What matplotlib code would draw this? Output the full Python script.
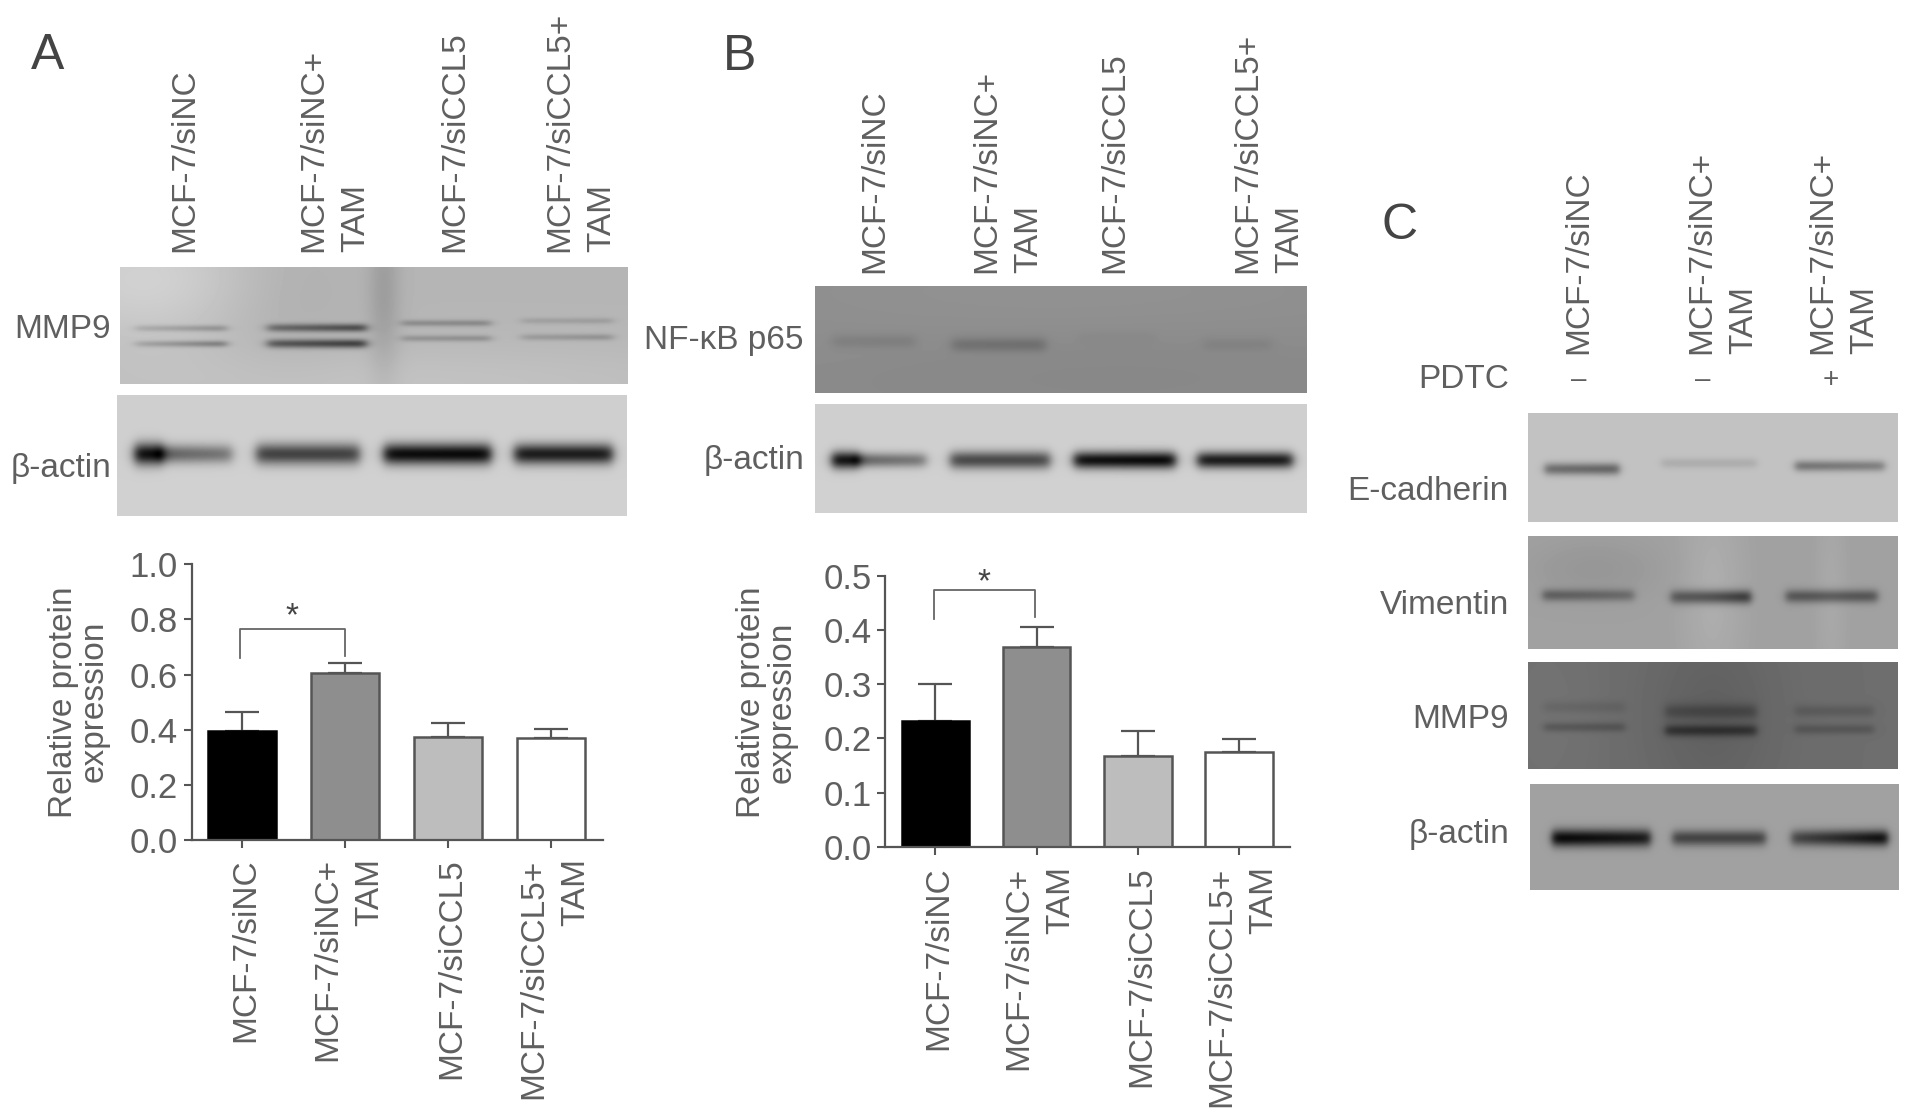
"""Western blot panels and relative protein expression bars (panels A, B, C)."""
import numpy as np
import matplotlib
matplotlib.use("Agg")
import matplotlib.pyplot as plt
from matplotlib.transforms import ScaledTranslation

plt.rcParams['font.family'] = ['Liberation Sans', 'DejaVu Sans']

W, H = 1913, 1120
TXT = '#5f5f5f'
LINE = '#555555'

# ── Chart values ─────────────────────────────────────────────────────────────
groups = ['MCF-7/siNC', 'MCF-7/siNC+\nTAM', 'MCF-7/siCCL5', 'MCF-7/siCCL5+\nTAM']
groups_c = ['MCF-7/siNC', 'MCF-7/siNC+\nTAM', 'MCF-7/siNC+\nTAM']
pdtc_signs = ['–', '–', '+']
bar_colors = ['#000000', '#8e8e8e', '#bdbdbd', '#ffffff']
bar_edges = ['#000000', '#555555', '#555555', '#555555']

mean_a = [0.395, 0.607, 0.373, 0.370]
err_a = [0.070, 0.034, 0.052, 0.035]
yticks_a = [0.0, 0.2, 0.4, 0.6, 0.8, 1.0]

mean_b = [0.232, 0.368, 0.168, 0.176]
err_b = [0.069, 0.037, 0.046, 0.023]
yticks_b = [0.0, 0.1, 0.2, 0.3, 0.4, 0.5]

# ── Blot bands: (u0, u1, v, thickness, dark_left, dark_right) ────────────────
mmp9_a_bands = [
    (.03, .21, .524, .020, .10, .18), (.03, .21, .657, .020, .11, .26),
    (.29, .485, .520, .025, .28, .42), (.29, .485, .655, .027, .36, .48),
    (.555, .73, .480, .020, .16, .18), (.555, .73, .610, .020, .14, .16),
    (.79, .97, .460, .019, .08, .10), (.79, .97, .600, .020, .11, .15),
]
actin_a_bands = [
    (.035, .09, .488, .065, .80, .70), (.08, .226, .488, .055, .42, .34),
    (.273, .476, .488, .062, .55, .55), (.523, .734, .488, .062, .76, .78),
    (.779, .972, .488, .060, .70, .70),
]
p65_bands = [
    (.037, .204, .520, .045, .05, .055), (.279, .469, .550, .048, .10, .11),
    (.535, .692, .490, .045, .012, .012), (.79, .93, .550, .045, .035, .035),
]
actin_b_bands = [
    (.035, .09, .515, .058, .80, .65), (.08, .226, .515, .048, .40, .33),
    (.275, .478, .515, .058, .52, .52), (.526, .733, .515, .056, .74, .78),
    (.777, .971, .515, .054, .70, .70),
]
ecad_bands = [
    (.045, .247, .514, .040, .32, .36), (.361, .618, .460, .034, .08, .08),
    (.722, .964, .486, .036, .30, .25),
]
vim_bands = [
    (.040, .287, .525, .038, .25, .19), (.386, .603, .540, .044, .28, .42),
    (.697, .945, .534, .042, .29, .29),
]
mmp9_c_bands = [
    (.044, .262, .425, .040, .045, .045), (.044, .262, .610, .032, .10, .10),
    (.371, .618, .465, .052, .11, .12), (.371, .618, .640, .040, .20, .20),
    (.722, .935, .460, .040, .07, .07), (.722, .935, .630, .034, .09, .09),
]
actin_c_bands = [
    (.060, .327, .510, .058, .60, .52), (.386, .639, .510, .052, .36, .36),
    (.708, .970, .510, .054, .34, .58),
]

# Background shading: (u, v, spread_u, spread_v, amount)
mmp9_a_shade = [(.05, .10, .16, .40, .11), (.52, .20, .022, .55, -.09),
                (.50, 1.0, .60, .25, .05), (.32, .2, .10, .5, -.03)]
actin_shade = [(.5, .9, .8, .3, .01)]
p65_shade = [(.5, .1, .5, .4, .02), (.6, .8, .4, .3, -.02)]
vim_shade = [(.5, .5, .06, .7, .05), (.82, .5, .03, .7, .03), (.18, .3, .12, .18, -.04)]
mmp9_c_shade = [(.5, .5, .13, .7, -.05), (.05, .5, .10, .7, .02)]


def make_blot(w, h, base, bands, shade=()):
    """Paint a soft grey blot image from band and shading lists."""
    u = (np.arange(w) + .5) / w
    v = (np.arange(h) + .5) / h
    uu, vv = np.meshgrid(u, v)
    img = np.full((h, w), float(base))
    for cu, cv, su, sv, amt in shade:
        img += amt * np.exp(-((uu - cu) / su)**2 / 2 - ((vv - cv) / sv)**2 / 2)
    for u0, u1, vc, th, dl, dr in bands:
        edge = .5 * (np.tanh((uu - u0) / .012) - np.tanh((uu - u1) / .012))
        dark = dl + (dr - dl) * np.clip((uu - u0) / (u1 - u0), 0, 1)
        img -= dark * edge * np.exp(-((vv - vc) / th)**2 / 2)
    return np.clip(img, 0, 1)


def add_blot(fig, x0, y0, x1, y1, base, bands, shade=()):
    ax = fig.add_axes([x0 / W, 1 - y1 / H, (x1 - x0) / W, (y1 - y0) / H])
    ax.imshow(make_blot(int(x1 - x0), int(y1 - y0), base, bands, shade),
              cmap='gray', vmin=0, vmax=1, aspect='auto', interpolation='bilinear')
    ax.axis('off')
    return ax


def label(fig, x, y, s, size=24, **kw):
    """Text placed by reference pixel position."""
    kw.setdefault('color', TXT)
    fig.text(x / W, 1 - y / H, s, fontsize=size, **kw)


def bar_panel(fig, box, means, errs, yticks, ylim, x_lim, bar_w, pad, ylab_xy):
    x0, y0, x1, y1 = box
    ax = fig.add_axes([x0 / W, 1 - y1 / H, (x1 - x0) / W, (y1 - y0) / H])
    xs = np.arange(len(means))
    ax.errorbar(xs, means, yerr=[np.zeros(len(errs)), errs], fmt='none', ecolor=LINE,
                elinewidth=1.6, capsize=12.5, capthick=1.6, zorder=1)
    ax.bar(xs, means, width=bar_w, color=bar_colors, edgecolor=bar_edges, linewidth=1.8, zorder=2)
    ax.set_xlim(*x_lim)
    ax.set_ylim(*ylim)
    ax.set_xticks(xs, groups, rotation=90, ma='right', ha='center', va='top', linespacing=1.45)
    ax.set_yticks(yticks, [f'{t:.1f}' for t in yticks])
    ax.tick_params(axis='x', length=6, width=1.5, color=LINE, labelcolor=TXT, labelsize=24, pad=pad)
    ax.tick_params(axis='y', length=6, width=1.5, color=LINE, labelcolor=TXT, labelsize=25, pad=4)
    # the rotated labels sit a little right of their ticks
    nudge = ScaledTranslation(3.5 / 100, 0, fig.dpi_scale_trans)
    for tl in ax.get_xticklabels():
        tl.set_transform(tl.get_transform() + nudge)
    for side in ('top', 'right'):
        ax.spines[side].set_visible(False)
    for side in ('left', 'bottom'):
        ax.spines[side].set_linewidth(1.6)
        ax.spines[side].set_color(LINE)
    ax.set_ylabel('Relative protein\nexpression', fontsize=24, color=TXT, va='center', ha='center',
                  linespacing=1.0)
    ax.yaxis.set_label_coords((ylab_xy[0] - x0) / (x1 - x0), (y1 - ylab_xy[1]) / (y1 - y0))
    ax.patch.set_alpha(0)
    return ax


def bracket(ax, x_left, x_right, y_top, y_left, y_right, y_star):
    ax.plot([x_left, x_left, x_right, x_right], [y_left, y_top, y_top, y_right],
            color='#666666', lw=1.3, clip_on=False, zorder=3)
    ax.text((x_left + x_right) / 2, y_star, '*', ha='center', va='center', fontsize=24,
            color='#444444', clip_on=False)


fig = plt.figure(figsize=(W / 100, H / 100), dpi=100, facecolor='white')

# ── Panel A ──────────────────────────────────────────────────────────────────
label(fig, 48, 56, 'A', size=36, ha='center', va='center', color='#444444')
for x, s in zip([185, 335, 455, 581], groups):
    label(fig, x, 252.5, s, rotation=90, ha='center', va='bottom', ma='left', linespacing=1.45)
add_blot(fig, 120, 267, 628, 384, .71, mmp9_a_bands, mmp9_a_shade)
add_blot(fig, 117, 395, 627, 516, .81, actin_a_bands, actin_shade)
label(fig, 111, 329, 'MMP9', ha='right', va='center')
label(fig, 111, 468, 'β-actin', ha='right', va='center')
ax_a = bar_panel(fig, (191.5, 564.3, 603, 840.3), mean_a, err_a, yticks_a, (0, 1.0),
                 (-0.492, 3.503), 0.665, 7, (78.6, 701.8))
bracket(ax_a, -0.025, 1.0, 0.767, 0.662, 0.668, 0.81)

# ── Panel B ──────────────────────────────────────────────────────────────────
label(fig, 740, 57, 'B', size=36, ha='center', va='center', color='#444444')
for x, s in zip([874.5, 1008, 1115, 1269], groups):
    label(fig, x, 273, s, rotation=90, ha='center', va='bottom', ma='left', linespacing=1.45)
add_blot(fig, 815, 286, 1307, 393, .55, p65_bands, p65_shade)
add_blot(fig, 815, 404, 1307, 513, .81, actin_b_bands, actin_shade)
label(fig, 804, 341, 'NF-κB p65', ha='right', va='center')
label(fig, 804, 460, 'β-actin', ha='right', va='center')
ax_b = bar_panel(fig, (885.3, 575.7, 1290, 847), mean_b, err_b, yticks_b, (0, 0.5),
                 (-0.495, 3.504), 0.667, 8, (767, 702))
bracket(ax_b, -0.014, 0.98, 0.4736, 0.421, 0.423, 0.487)

# ── Panel C ──────────────────────────────────────────────────────────────────
label(fig, 1400, 226, 'C', size=36, ha='center', va='center', color='#444444')
for x, s in zip([1579, 1723, 1843.5], groups_c):
    label(fig, x, 354, s, rotation=90, ha='center', va='bottom', ma='left', linespacing=1.45)
label(fig, 1509, 379, 'PDTC', ha='right', va='center')
for x, s in zip([1579, 1703, 1831], pdtc_signs):
    label(fig, x, 380, s, size=20, ha='center', va='center')
add_blot(fig, 1528, 413, 1898, 522, .76, ecad_bands)
add_blot(fig, 1528, 536, 1898, 649, .63, vim_bands, vim_shade)
add_blot(fig, 1528, 662, 1898, 769, .43, mmp9_c_bands, mmp9_c_shade)
add_blot(fig, 1530, 784, 1899, 890, .63, actin_c_bands)
label(fig, 1509, 492, 'E-cadherin', ha='right', va='center')
label(fig, 1509, 606, 'Vimentin', ha='right', va='center')
label(fig, 1509, 720, 'MMP9', ha='right', va='center')
label(fig, 1509, 834, 'β-actin', ha='right', va='center')

fig.savefig('out.png', dpi=100)
plt.close(fig)
